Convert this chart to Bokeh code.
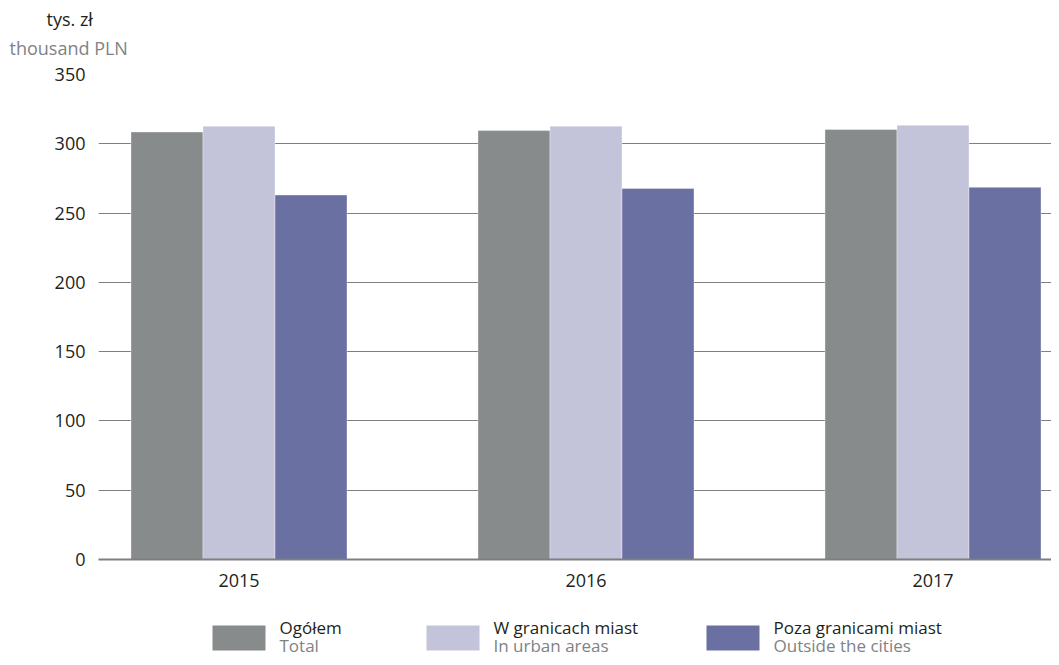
from bokeh.plotting import figure
from bokeh.models import Range1d, FixedTicker, ColumnDataSource, Title
from bokeh.layouts import column
from bokeh.embed import file_html
from bokeh.resources import INLINE
from bokeh.core.properties import value

years = ["2015", "2016", "2017"]
series_pl = ["Ogółem", "W granicach miast", "Poza granicami miast"]
series_en = ["Total", "In urban areas", "Outside the cities"]
total = [308.5, 309.5, 310.3]
urban = [312.7, 312.7, 313.4]
outside = [263.0, 267.7, 268.6]
colors = ["#878b8c", "#c3c3da", "#6b70a2"]
y_ticks = [0, 50, 100, 150, 200, 250, 300, 350]
unit_pl = "tys. zł"
unit_en = "thousand PLN"

FONT = "Open Sans"
TXT = "#231f20"
GRAY = "#808285"
W = 1051
LEFT = 98

# main chart
p = figure(frame_width=W - LEFT, frame_height=485, min_border_left=LEFT, min_border_right=0,
           min_border_top=74, min_border_bottom=34,
           x_range=Range1d(-0.4049, 2.3415), y_range=Range1d(0, 350),
           output_backend="svg", toolbar_location=None, tools="")
p.outline_line_color = None

p.add_layout(Title(text=unit_en, align="left", offset=-89, text_font=FONT,
                   text_font_size="18px", text_font_style="normal", text_color=GRAY,
                   standoff=29), "above")
p.add_layout(Title(text=unit_pl, align="left", offset=-52, text_font=FONT,
                   text_font_size="18px", text_font_style="normal", text_color=TXT,
                   standoff=-22), "above")

bw = 0.2075
xs = list(range(len(years)))
for i, (vals, col) in enumerate(zip([total, urban, outside], colors)):
    src = ColumnDataSource(dict(x=[x + (i - 1) * bw for x in xs], top=vals))
    p.vbar(x="x", top="top", bottom=0, width=bw, source=src, fill_color=col,
           line_color="white", line_alpha=0.35, line_width=1)

p.xgrid.visible = False
p.ygrid.ticker = FixedTicker(ticks=y_ticks[1:])
p.ygrid.grid_line_color = "#7f7f7f"
p.ygrid.grid_line_width = 1
p.ygrid.level = "underlay"

p.yaxis.ticker = FixedTicker(ticks=y_ticks)
p.yaxis.axis_line_color = None
p.yaxis.major_tick_line_color = None
p.yaxis.minor_tick_line_color = None
p.yaxis.major_label_standoff = 7
p.yaxis.major_label_text_font = FONT
p.yaxis.major_label_text_font_size = "18px"
p.yaxis.major_label_text_color = TXT

p.xaxis.ticker = FixedTicker(ticks=xs)
p.xaxis.major_label_overrides = {i: y for i, y in enumerate(years)}
p.xaxis.axis_line_color = "#7f7f7f"
p.xaxis.axis_line_width = 2
p.xaxis.major_tick_line_color = None
p.xaxis.minor_tick_line_color = None
p.xaxis.major_label_standoff = 8
p.xaxis.major_label_text_font = FONT
p.xaxis.major_label_text_font_size = "18px"
p.xaxis.major_label_text_color = TXT

# legend (pixel coordinates, frame aligned with main frame)
LH = 64
lg = figure(frame_width=W - LEFT, frame_height=LH, min_border_left=LEFT, min_border_right=0,
            min_border_top=0, min_border_bottom=0,
            x_range=Range1d(LEFT, W), y_range=Range1d(LH, 0),
            output_backend="svg", toolbar_location=None, tools="")
lg.axis.visible = False
lg.grid.visible = False
lg.outline_line_color = None
sw_x = [212, 426, 706]
lg.quad(left=sw_x, right=[x + 53 for x in sw_x], top=[32] * 3, bottom=[57] * 3,
        fill_color=colors, line_color=None)
lg.text(x=[x + 67 for x in sw_x], y=[34] * 3, text=series_pl, text_font=value(FONT),
        text_font_size="17px", text_color=TXT, text_baseline="middle")
lg.text(x=[x + 67 for x in sw_x], y=[52] * 3, text=series_en, text_font=value(FONT),
        text_font_size="17px", text_color=GRAY, text_baseline="middle")

layout = column(p, lg, spacing=0)
open("out.html", "w").write(file_html(layout, INLINE))
